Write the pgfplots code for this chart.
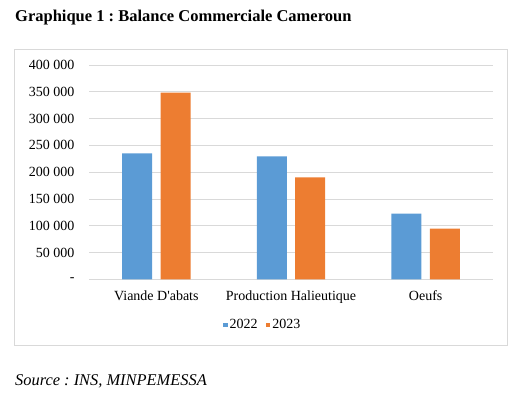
\documentclass[border=0pt]{standalone}
\usepackage{fontspec}
\setmainfont{Liberation Serif}
\usepackage{pgfplots}
\pgfplotsset{compat=1.18}
\frenchspacing
\definecolor{cblue}{HTML}{5B9BD5}
\definecolor{corange}{HTML}{ED7D31}
\definecolor{gridgray}{HTML}{D9D9D9}
\begin{document}
\begin{tikzpicture}
\path[use as bounding box] (0,0) rectangle (511pt,-400pt);
\draw[gridgray, line width=0.8pt] (14.5pt,-49pt) rectangle (507pt,-345pt);
\node[anchor=base west, inner sep=0, font=\fontsize{16.5}{19}\selectfont\bfseries] at (15pt,-21.5pt) {Graphique 1 : Balance Commerciale Cameroun};
\node[anchor=base west, inner sep=0, font=\fontsize{16.4}{19}\selectfont\itshape] at (15pt,-385.7pt) {Source : INS, MINPEMESSA};
\begin{axis}[
 at={(89pt,-279.3pt)}, anchor=south west,
 scale only axis, width=404pt, height=214.3pt,
 xmin=-0.5, xmax=2.5, ymin=0, ymax=400000,
 axis line style={draw=none},
 major tick length=0pt,
 ymajorgrids, grid style={gridgray, line width=0.8pt},
 ytick={0,50000,100000,150000,200000,250000,300000,350000,400000},
 yticklabels={{-},{50 000},{100 000},{150 000},{200 000},{250 000},{300 000},{350 000},{400 000}},
 xtick={0,1,2},
 xticklabels={Viande D\textquotesingle abats, Production Halieutique, Oeufs},
 ticklabel style={font=\fontsize{14}{16}\selectfont},
 yticklabel style={xshift=-11pt},
 xticklabel style={yshift=-7.7pt},
 scaled y ticks=false,
 legend columns=2,
 legend style={draw=none, fill=none, at={(0.4295,-0.213)}, anchor=center, font=\fontsize{14}{16}\selectfont, /tikz/every even column/.append style={column sep=6pt}},
]
\addplot[ybar, fill=cblue, draw=none, bar width=30pt, bar shift=-19.2pt,
  legend image code/.code={\fill[cblue] (0pt,-2.4pt) rectangle (4.8pt,2.4pt);}]
  coordinates {(0,235200) (1,229600) (2,122400)};
\addlegendentry{2022}
\addplot[ybar, fill=corange, draw=none, bar width=30pt, bar shift=19.2pt,
  legend image code/.code={\fill[corange] (0pt,-2.4pt) rectangle (4.8pt,2.4pt);}]
  coordinates {(0,348300) (1,190400) (2,94400)};
\addlegendentry{2023}
\end{axis}
\end{tikzpicture}
\end{document}
